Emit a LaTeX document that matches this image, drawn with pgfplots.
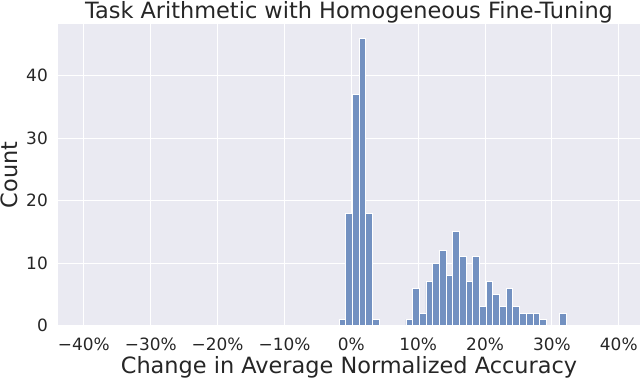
\documentclass[border=0pt]{standalone}
\usepackage{fontspec}
\setmainfont{DejaVu Sans}
\usepackage{pgfplots}
\pgfplotsset{compat=1.18}
\definecolor{sbbg}{HTML}{EAEAF2}
\definecolor{sbbar}{HTML}{7391C1}
\definecolor{sbtext}{HTML}{262626}
\begin{document}
\begin{tikzpicture}[x=1bp,y=1bp]
\path[use as bounding box] (-58.5,-52.5) rectangle (581.5,325.5);
\begin{axis}[
  at={(0,0)}, anchor=south west,
  scale only axis, width=581bp, height=301.5bp,
  xmin=-43.8, xmax=43.1, ymin=0, ymax=48.3,
  axis background/.style={fill=sbbg},
  axis line style={draw=none},
  major tick length=0pt,
  grid=major, grid style={white, line width=1bp},
  xtick={-40,-30,-20,-10,0,10,20,30,40},
  xticklabels={−40\%,−30\%,−20\%,−10\%,0\%,10\%,20\%,30\%,40\%},
  ytick={0,10,20,30,40},
  /pgf/number format/assume math mode=true,
  tick label style={font=\fontsize{17}{19}\selectfont, text=sbtext, inner sep=0pt},
  xticklabel style={anchor=north, yshift=-12bp},
  yticklabel style={anchor=east, xshift=-10.5bp},
  xlabel={Change in Average Normalized Accuracy},
  ylabel={Count},
  label style={font=\fontsize{22.5}{25}\selectfont, text=sbtext, inner sep=0pt},
  xlabel style={at={(axis description cs:0.5,0)}, anchor=base, yshift=-47.5bp},
  ylabel style={at={(axis description cs:-0.0706,0.5)}, anchor=base},
  title={Task Arithmetic with Homogeneous Fine-Tuning},
  title style={font=\fontsize{22.5}{25}\selectfont, text=sbtext, inner sep=0pt,
    at={(axis description cs:0.5,1)}, anchor=base, yshift=0bp},
]
\addplot[ybar interval, fill=sbbar, draw=white, line width=0.8bp] coordinates {
(-1.84,1) (-0.84,18) (0.16,37) (1.16,46) (2.16,18) (3.16,1)
(4.16,0) (5.16,0) (6.16,0) (7.16,0)
(8.16,1) (9.16,6) (10.16,2) (11.16,7) (12.16,10) (13.16,12)
(14.16,8) (15.16,15) (16.16,11) (17.16,7) (18.16,11) (19.16,3)
(20.16,7) (21.16,5) (22.16,3) (23.16,6) (24.16,3) (25.16,2)
(26.16,2) (27.16,2) (28.16,1) (29.16,0) (30.16,0) (31.16,2)
(32.16,2)
};
\end{axis}
\end{tikzpicture}
\end{document}
